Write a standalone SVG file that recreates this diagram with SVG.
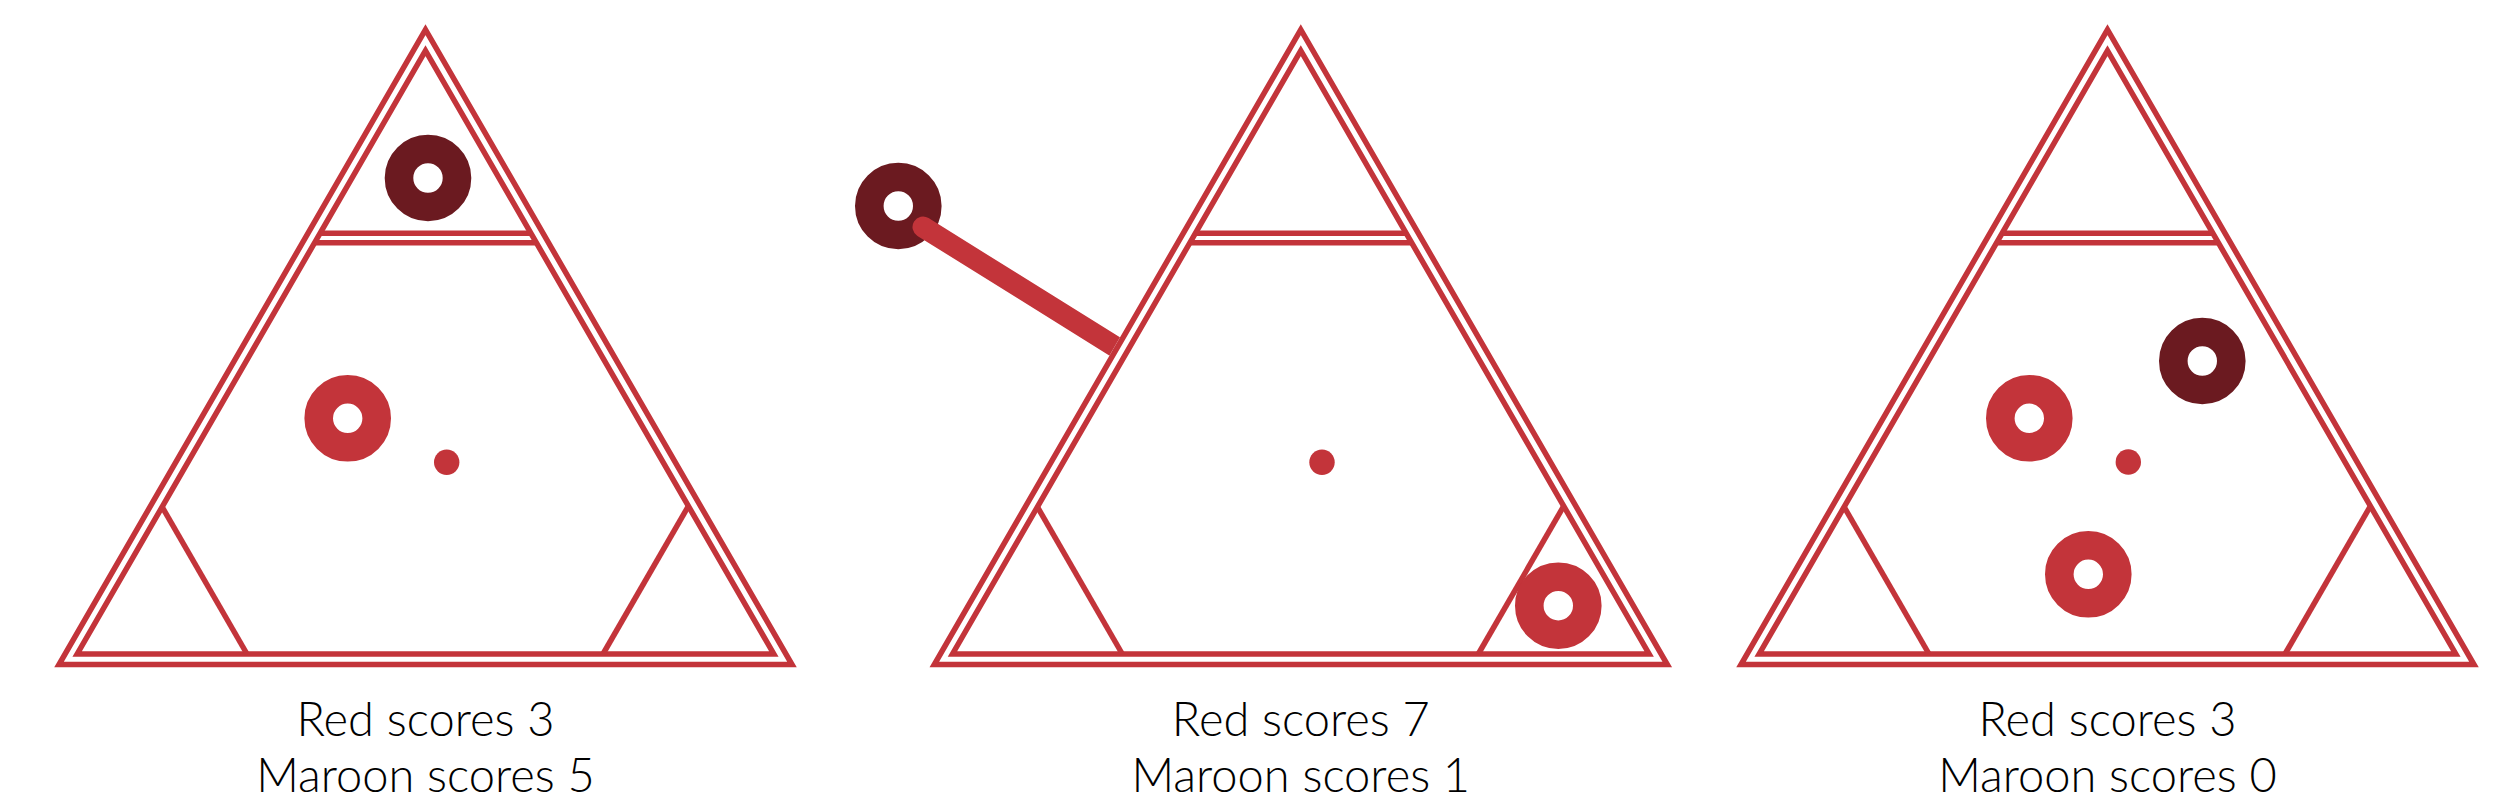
<svg xmlns="http://www.w3.org/2000/svg" xmlns:xlink="http://www.w3.org/1999/xlink" width="2500" height="807" viewBox="0 0 2500 807">
<style>
.edge{fill:none;stroke:#c3343a;stroke-width:5.5;stroke-linejoin:miter;stroke-miterlimit:10}
.ring-red{fill:none;stroke:#c3343a;stroke-width:28.6}
.ring-maroon{fill:none;stroke:#6b1a20;stroke-width:28.6}
.dot{fill:#c3343a}
.label{font-family:"Lato","Liberation Sans",sans-serif;font-size:47px;font-weight:300;fill:#000;text-anchor:middle}
.stick{stroke:#c3343a;stroke-width:21;stroke-linecap:round}
</style>
<defs>
<g id="board">
<polygon class="edge" points="0,29.7 -366.5,664.5 366.5,664.5"/>
<polygon class="edge" points="0,50.7 -348.3,654 348.3,654"/>
<line class="edge" x1="-105.4" y1="233.3" x2="105.4" y2="233.3"/>
<line class="edge" x1="-110.9" y1="242.7" x2="110.9" y2="242.7"/>
<line class="edge" x1="-178.5" y1="654" x2="-263.4" y2="506.9"/>
<line class="edge" x1="177.5" y1="654" x2="262.9" y2="506.1"/>
</g>
<clipPath id="stickClip">
<polygon points="800,0 1314.7,0 852.9,800 800,800"/>
</clipPath>
</defs>

<g id="board-1">
<use xlink:href="#board" href="#board" transform="translate(425.5,0)"/>
<circle class="ring-maroon" cx="428" cy="178" r="29"/>
<circle class="ring-red" cx="347.7" cy="418.3" r="29"/>
<circle class="dot" cx="446.7" cy="462.3" r="12.7"/>
<text class="label" x="425.5" y="736">Red scores 3</text>
<text class="label" x="425.5" y="791.7">Maroon scores 5</text>
</g>

<g id="board-2">
<use xlink:href="#board" href="#board" transform="translate(1300.8,0)"/>
<circle class="ring-maroon" cx="898.3" cy="206" r="29"/>
<circle class="ring-red" cx="1558.3" cy="605.7" r="29"/>
<circle class="dot" cx="1322" cy="462.3" r="12.7"/>
<text class="label" x="1300.8" y="736">Red scores 7</text>
<text class="label" x="1300.8" y="791.7">Maroon scores 1</text>
</g>

<g id="board-3">
<use xlink:href="#board" href="#board" transform="translate(2107.5,0)"/>
<circle class="ring-red" cx="2029.3" cy="418.3" r="29"/>
<circle class="ring-maroon" cx="2202.3" cy="361" r="29"/>
<circle class="dot" cx="2128.3" cy="462" r="12.7"/>
<circle class="ring-red" cx="2088.3" cy="574.3" r="29"/>
<text class="label" x="2107.5" y="736">Red scores 3</text>
<text class="label" x="2107.5" y="791.7">Maroon scores 0</text>
</g>

<g id="connectors">
<line class="stick" x1="923" y1="227" x2="1130" y2="356" clip-path="url(#stickClip)"/>
</g>
</svg>
